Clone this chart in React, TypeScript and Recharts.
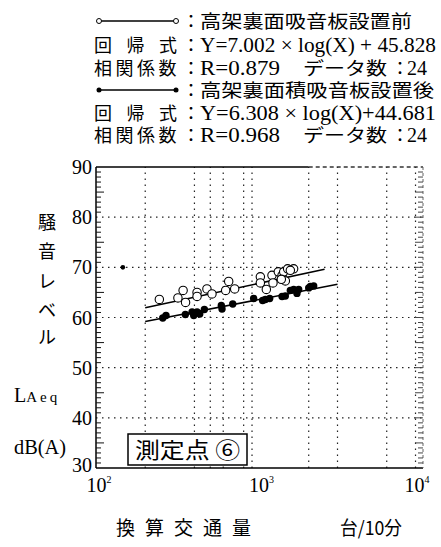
import React from 'react'
import { ScatterChart, Scatter, XAxis, YAxis, ReferenceLine } from 'recharts'

const W = 441
const H = 547

// 換算交通量 (台/10分) vs LAeq, 24 runs each
const beforeX = [244, 317, 341, 353, 415, 415, 477, 512, 621, 648, 705, 1012, 1012, 1101, 1192, 1209, 1303, 1374, 1439, 1406, 1486, 1617, 1544, 1360]
const beforeY = [63.6, 63.9, 65.4, 63.0, 65.0, 64.2, 65.7, 64.7, 65.4, 67.2, 65.7, 68.1, 66.9, 65.6, 68.4, 66.9, 69.1, 68.4, 67.3, 69.1, 69.7, 69.7, 69.4, 67.6]
const afterX = [256, 268, 352, 387, 396, 415, 431, 460, 584, 590, 686, 921, 1045, 1086, 1154, 1374, 1439, 1544, 1618, 1695, 1736, 2000, 2047, 2145]
const afterY = [59.9, 60.4, 60.6, 61.1, 60.4, 61.1, 60.7, 61.6, 62.4, 61.7, 62.7, 63.8, 63.4, 63.6, 63.8, 64.2, 64.3, 65.4, 65.6, 64.8, 65.6, 65.9, 66.2, 66.3]
// lone mark sitting on the 70 dB line at the far left
const strayX = [146]
const strayY = [70]

// regression coefficients and the traffic range each fitted line covers
const beforeFit = { slope: 7.002, icpt: 45.828, from: 200, to: 2500 }
const afterFit = { slope: 6.308, icpt: 44.681, from: 200, to: 3000 }

const xTicks = [100, 1000, 10000]
const yMinor = Array.from({ length: 61 }, (_, i) => 30 + i)
const xGrid = [200, 400, 500, 600, 800, 900, 2000, 3000, 6000, 9000]
const yGrid = [40, 50, 60, 70, 80]

const SERIF = '"Liberation Serif", "DejaVu Serif", serif'
const JP = '"Noto Sans CJK JP", sans-serif'

const toPts = (xs: number[], ys: number[]) => xs.map((x, i) => ({ x, y: ys[i] }))
const fitLine = (f: typeof beforeFit) =>
  [f.from, f.to].map(x => ({ x, y: f.slope * Math.log10(x) + f.icpt }))

const OpenDot = (p: any) => <circle cx={p.cx} cy={p.cy} r={4.2} fill="#fff" stroke="#000" strokeWidth={1.1} />
const FullDot = (p: any) => <circle cx={p.cx} cy={p.cy} r={3.7} fill="#000" />
const SmallDot = (p: any) => <circle cx={p.cx} cy={p.cy} r={2.3} fill="#000" />
const NoDot = () => <g />

function LeftTick(p: any) {
  const v = p.payload.value
  const ax = p.x + 5
  const len = v % 10 === 0 ? 0 : v % 5 === 0 ? 8 : 5
  return (
    <g>
      {len > 0 && <line x1={ax} x2={ax + len} y1={p.y} y2={p.y} stroke="#111" strokeWidth={1} />}
      {v % 10 === 0 && (
        <text x={ax - 4} y={p.y + (v === 30 ? 4 : 7)} textAnchor="end" fontFamily={SERIF} fontSize={20} fill="#000">{v}</text>
      )}
    </g>
  )
}

function RightTick(p: any) {
  const v = p.payload.value
  if (v === 30 || v === 90) return <g />
  const len = v % 5 === 0 ? 8 : 5
  return <line x1={p.x} x2={p.x - len} y1={p.y} y2={p.y} stroke="#444" strokeWidth={1} />
}

function XTick(p: any) {
  const exp = Math.round(Math.log10(p.payload.value))
  const dx = exp === 4 ? -6 : exp === 2 ? 3 : 2
  return (
    <text x={p.x + dx} y={p.y + 24} textAnchor="middle" fontFamily={SERIF} fontSize={20} fill="#000">
      10<tspan dy={-9} fontSize={10}>{exp}</tspan>
    </text>
  )
}

function Header() {
  const cjk = { fontFamily: JP, fontSize: 18, fill: '#000' }
  const num = { fontFamily: SERIF, fontSize: 20, fill: '#000' }
  const rows = [28, 52, 75, 97, 120, 142]
  const label = (y: number, chars: string[]) =>
    chars.map((c, i) => (
      <text key={c + y} x={94 + i * (chars.length === 3 ? 32.5 : 21.5)} y={y} {...cjk}>{c}</text>
    ))
  return (
    <svg width={W} height={H} style={{ position: 'absolute', left: 0, top: 0, pointerEvents: 'none' }}>
      <line x1={99} x2={176} y1={21} y2={21} stroke="#000" strokeWidth={1.6} />
      <circle cx={99} cy={21} r={2.5} fill="#fff" stroke="#000" />
      <circle cx={176} cy={21} r={2.5} fill="#fff" stroke="#000" />
      <text x={182} y={rows[0]} {...cjk}>：</text>
      <text x={200} y={rows[0]} {...cjk} textLength={212} lengthAdjust="spacingAndGlyphs">高架裏面吸音板設置前</text>

      {label(rows[1], ['回', '帰', '式'])}
      <text x={182} y={rows[1]} {...cjk}>：</text>
      <text x={200} y={rows[1]} {...num} textLength={236} lengthAdjust="spacingAndGlyphs">Y=7.002 × log(X) + 45.828</text>

      {label(rows[2], ['相', '関', '係', '数'])}
      <text x={182} y={rows[2]} {...cjk}>：</text>
      <text x={200} y={rows[2]} {...num} textLength={80} lengthAdjust="spacingAndGlyphs">R=0.879</text>
      <text x={303} y={rows[2]} {...cjk} textLength={84} lengthAdjust="spacingAndGlyphs">データ数</text>
      <text x={391} y={rows[2]} {...cjk}>：</text>
      <text x={407} y={rows[2]} {...num}>24</text>

      <line x1={99} x2={176} y1={90} y2={90} stroke="#000" strokeWidth={1.6} />
      <circle cx={99} cy={90} r={2.5} fill="#000" />
      <circle cx={176} cy={90} r={2.5} fill="#000" />
      <text x={182} y={rows[3]} {...cjk}>：</text>
      <text x={200} y={rows[3]} {...cjk} textLength={234} lengthAdjust="spacingAndGlyphs">高架裏面積吸音板設置後</text>

      {label(rows[4], ['回', '帰', '式'])}
      <text x={182} y={rows[4]} {...cjk}>：</text>
      <text x={200} y={rows[4]} {...num} textLength={236} lengthAdjust="spacingAndGlyphs">Y=6.308 × log(X)+44.681</text>

      {label(rows[5], ['相', '関', '係', '数'])}
      <text x={182} y={rows[5]} {...cjk}>：</text>
      <text x={200} y={rows[5]} {...num} textLength={80} lengthAdjust="spacingAndGlyphs">R=0.968</text>
      <text x={303} y={rows[5]} {...cjk} textLength={84} lengthAdjust="spacingAndGlyphs">データ数</text>
      <text x={391} y={rows[5]} {...cjk}>：</text>
      <text x={407} y={rows[5]} {...num}>24</text>

      {/* y-axis title, stacked vertically */}
      {['騒', '音', 'レ', 'ベ', 'ル'].map((c, i) => (
        <text key={c} x={47} y={[229, 258, 288, 317, 344][i]} textAnchor="middle" fontFamily={JP} fontSize={18}>{c}</text>
      ))}
      <text x={14} y={402} fontFamily={SERIF} fontSize={20}>L<tspan fontSize={15} letterSpacing={3}>Aeq</tspan></text>
      <text x={14} y={454} fontFamily={SERIF} fontSize={20} textLength={52} lengthAdjust="spacingAndGlyphs">dB(A)</text>

      {/* x-axis title */}
      {['換', '算', '交', '通', '量'].map((c, i) => (
        <text key={c} x={116 + i * 29} y={535} fontFamily={JP} fontSize={19}>{c}</text>
      ))}
      <text x={340} y={535} fontFamily={JP} fontSize={19} textLength={62} lengthAdjust="spacingAndGlyphs">台/10分</text>

      <rect x={128} y={434} width={119} height={31} fill="#fff" stroke="#000" strokeWidth={1.5} />
      <text x={135} y={458} fontFamily={JP} fontSize={22} textLength={105} lengthAdjust="spacingAndGlyphs">測定点 ⑥</text>
    </svg>
  )
}

export default function App() {
  return (
    <div style={{ position: 'absolute', left: 0, top: 0, width: W, height: H, background: '#fff' }}>
      <ScatterChart width={W} height={H} margin={{ top: 167, right: 0, bottom: 0, left: 0 }}>
        <XAxis
          dataKey="x" type="number" scale="log" domain={[100, 10000]} allowDataOverflow
          ticks={xTicks} interval={0} height={79} tickSize={0} tickMargin={0}
          tick={XTick} axisLine={{ stroke: '#000', strokeWidth: 1.5 }}
        />
        <YAxis
          dataKey="y" type="number" domain={[30, 90]} allowDataOverflow
          ticks={yMinor} interval={0} width={96} tickSize={0} tickMargin={5}
          tick={LeftTick} axisLine={{ stroke: '#000', strokeWidth: 1.5 }}
        />
        <YAxis
          yAxisId="r" orientation="right" type="number" domain={[30, 90]} allowDataOverflow
          ticks={yMinor} interval={0} width={18} tickSize={0} tickMargin={0}
          tick={RightTick} axisLine={{ stroke: '#666', strokeDasharray: '3 3' }}
        />
        {xGrid.map(v => (
          <ReferenceLine key={'gx' + v} x={v} stroke="#222" strokeWidth={1.2} strokeDasharray="1.5 4.5" />
        ))}
        {yGrid.map(v => (
          <ReferenceLine key={'gy' + v} y={v} stroke="#222" strokeWidth={1.2} strokeDasharray="1.5 4.5" />
        ))}
        <ReferenceLine segment={[{ x: 100, y: 90 }, { x: 2000, y: 90 }]} stroke="#000" strokeWidth={1.4} />
        <ReferenceLine segment={[{ x: 2000, y: 90 }, { x: 10000, y: 90 }]} stroke="#333" strokeWidth={1.4} strokeDasharray="4 3" />
        <Scatter data={fitLine(beforeFit)} line={{ stroke: '#000', strokeWidth: 1.6 }} shape={NoDot} isAnimationActive={false} />
        <Scatter data={fitLine(afterFit)} line={{ stroke: '#000', strokeWidth: 1.6 }} shape={NoDot} isAnimationActive={false} />
        <Scatter data={toPts(beforeX, beforeY)} shape={OpenDot} isAnimationActive={false} />
        <Scatter data={toPts(afterX, afterY)} shape={FullDot} isAnimationActive={false} />
        <Scatter data={toPts(strayX, strayY)} shape={SmallDot} isAnimationActive={false} />
      </ScatterChart>
      <Header />
    </div>
  )
}
